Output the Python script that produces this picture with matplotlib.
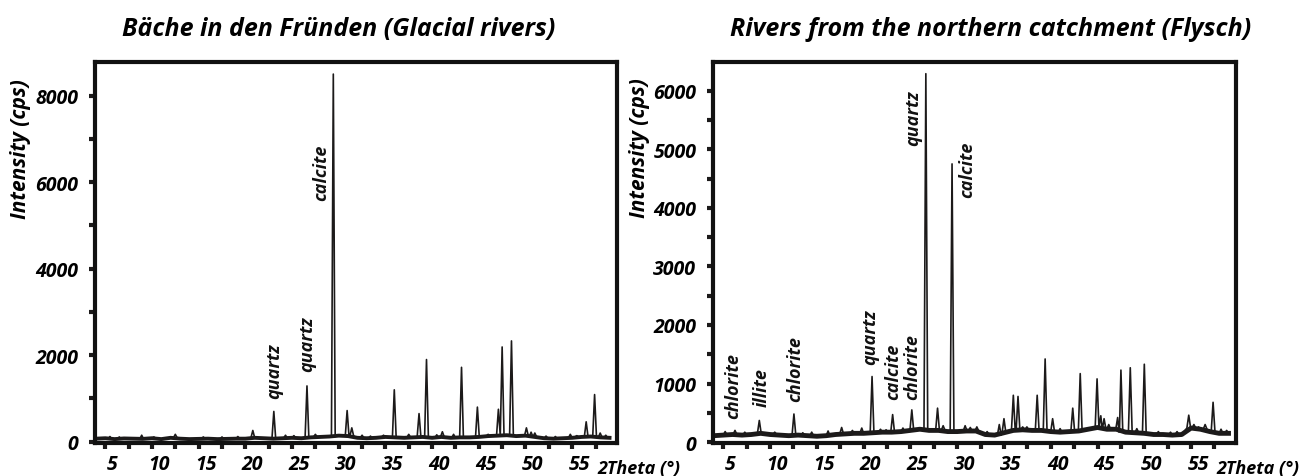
import numpy as np
import matplotlib
matplotlib.use('Agg')
import matplotlib.pyplot as plt
from matplotlib.transforms import ScaledTranslation

plt.rcParams['font.family'] = ['Open Sans', 'DejaVu Sans']
plt.rcParams['font.weight'] = 'bold'
plt.rcParams['font.style'] = 'italic'

# --- left: Bäche in den Fründen (Glacial rivers) ---
left_base_x = list(range(4, 60))
left_base_y = [70, 80, 60, 75, 70, 65, 80, 60, 90, 70, 60, 65, 70, 60, 65, 70,
               70, 90, 80, 70, 80, 90, 80, 100, 110, 120,
               140, 130, 90, 80, 90, 110, 100, 90, 100, 110,
               90, 110, 90, 100, 100, 110, 130, 140, 150, 130,
               140, 110, 80, 70, 80, 90, 110, 120, 100, 90]
left_peak_x = [5.5, 6.5, 8.9, 10.2, 12.5, 15.5, 17.5, 19.2, 20.8, 23.05, 24.3, 25.2,
               26.6, 27.5, 29.42, 30.9, 31.4, 32.5, 33.4, 34.8, 35.95, 37.5, 38.6,
               39.4, 40.5, 41.1, 42.3, 43.15, 44.85, 46.0, 47.1, 47.5, 48.5, 50.1,
               50.6, 51.0, 52.2, 53.2, 54.8, 55.5, 56.5, 57.4, 58.0, 58.6]
left_peak_y = [120, 110, 150, 110, 170, 110, 110, 120, 260, 700, 150, 140,
               1290, 170, 8500, 720, 320, 150, 130, 150, 1200, 170, 650,
               1900, 160, 230, 170, 1720, 800, 170, 750, 2190, 2330, 320,
               220, 200, 130, 120, 170, 140, 460, 1090, 200, 150]
left_labels = ['quartz', 'quartz', 'calcite']
left_label_x = [23.06, 26.58, 28.1]
left_label_y = [1016, 1640, 5590]

# --- right: Rivers from the northern catchment (Flysch) ---
right_base_x = list(range(4, 60))
right_base_y = [110, 120, 130, 120, 130, 150,
                130, 120, 110, 120, 110, 100, 110, 130, 140, 150,
                150, 160, 170, 170, 180, 200, 220, 200, 200, 180,
                180, 190, 190, 130, 120, 160, 200, 210, 200, 200,
                180, 170, 180, 190, 220, 250, 220, 220, 170, 160,
                150, 130, 130, 120, 130, 240, 220, 180, 150, 150]
right_peak_x = [5.2, 6.25, 7.3, 8.85, 10.5, 12.55, 13.5, 14.45, 16.2, 17.65, 18.8,
                19.8, 20.9, 21.8, 22.4, 23.1, 24.2, 25.15, 26.65, 27.9, 28.5,
                29.45, 30.85, 31.4, 32.1, 33.2, 34.5, 35.0, 36.0, 36.5, 37.0,
                37.45, 38.55, 39.4, 40.2, 41.0, 42.35, 43.15, 44.95, 45.35, 45.7,
                46.2, 47.15, 47.5, 48.5, 49.2, 50.0, 51.5, 52.8, 53.5, 54.75,
                55.3, 55.8, 56.5, 57.35, 58.2, 58.8]
right_peak_y = [180, 200, 170, 370, 170, 480, 160, 170, 190, 250, 200,
                240, 1120, 220, 210, 470, 240, 550, 6290, 580, 280,
                4750, 280, 250, 260, 180, 300, 400, 800, 780, 260,
                260, 800, 1420, 400, 230, 580, 1170, 1080, 450, 400,
                300, 420, 1230, 1270, 230, 1330, 180, 170, 180, 460,
                300, 260, 300, 680, 220, 200]
right_labels = ['chlorite', 'illite', 'chlorite', 'quartz', 'calcite', 'chlorite',
                'quartz', 'calcite']
right_label_x = [6.06, 9.06, 12.72, 20.69, 23.15, 25.16, 25.29, 31.02]
right_label_y = [415, 622, 708, 1335, 730, 730, 5078, 4185]

ink = '#1c1a1a'


def trace(bx, by, px, py, hw=0.2):
    # baseline samples away from peaks, plus foot-apex-foot for each peak
    pts = [(x, y) for x, y in zip(bx, by) if min(abs(x - p) for p in px) > hw]
    for p, h in zip(px, py):
        foot = by[int(round(p)) - bx[0]]
        pts += [(p - hw, foot), (p, h), (p + hw, foot)]
    pts.sort(key=lambda t: t[0])
    return [t[0] for t in pts], [t[1] for t in pts]


fig = plt.figure(figsize=(13.08, 4.77), dpi=100)
W, H = 1308.0, 477.0
ax1 = fig.add_axes([95 / W, 33 / H, 522 / W, 381 / H])
ax2 = fig.add_axes([713 / W, 33 / H, 523 / W, 381 / H])

panels = [
    (ax1, left_base_x, left_base_y, left_peak_x, left_peak_y, left_labels, left_label_x, left_label_y,
     (-30, 8780), np.arange(0, 8001, 2000), np.arange(0, 8001, 1000), 2.8),
    (ax2, right_base_x, right_base_y, right_peak_x, right_peak_y, right_labels, right_label_x, right_label_y,
     (-15, 6490), np.arange(0, 6001, 1000), np.arange(0, 6001, 500), 3.5),
]

for ax, bx, by, px, py, labs, lx, ly, ylim, ymaj, ymin, band in panels:
    tx, ty = trace(bx, by, px, py)
    ax.plot(bx, by, color=ink, lw=band)
    ax.plot(tx, ty, color=ink, lw=1.2)
    for s, x, y in zip(labs, lx, ly):
        ax.text(x, y, s, rotation=90, ha='center', va='bottom', fontsize=13, color='#111')
    ax.set_xlim(3.9, 59.8)
    ax.set_ylim(*ylim)
    ax.set_xticks(np.arange(5, 58, 2.5))
    ax.set_xticklabels([('%d' % v if v % 5 == 0 else '') for v in np.arange(5, 58, 2.5)])
    ax.set_yticks(ymaj)
    ax.set_yticks(ymin, minor=True)
    ax.tick_params(axis='x', length=4, width=3, pad=4, labelsize=14, color=ink)
    ax.tick_params(axis='y', which='both', length=4, width=3, pad=8, labelsize=14, color=ink)
    for sp in ax.spines.values():
        sp.set_linewidth(3)
        sp.set_color('#111')
    shift = ScaledTranslation(5 / 72, 0, fig.dpi_scale_trans)
    for t in ax.get_xticklabels():
        t.set_transform(t.get_transform() + shift)
    ax.text(57.75, -0.063, '2Theta (°)', transform=ax.get_xaxis_transform(),
            ha='left', va='center', fontsize=13, clip_on=False)

fig.text(21 / W, 1 - 149 / H, 'Intensity (cps)', rotation=90, ha='center', va='center', fontsize=15)
fig.text(640 / W, 1 - 148 / H, 'Intensity (cps)', rotation=90, ha='center', va='center', fontsize=15)
fig.text(339 / W, 1 - 36 / H, 'Bäche in den Fründen (Glacial rivers)', ha='center', va='baseline', fontsize=18)
fig.text(991 / W, 1 - 36 / H, 'Rivers from the northern catchment (Flysch)', ha='center', va='baseline', fontsize=18)

fig.savefig('out.png', dpi=100)
